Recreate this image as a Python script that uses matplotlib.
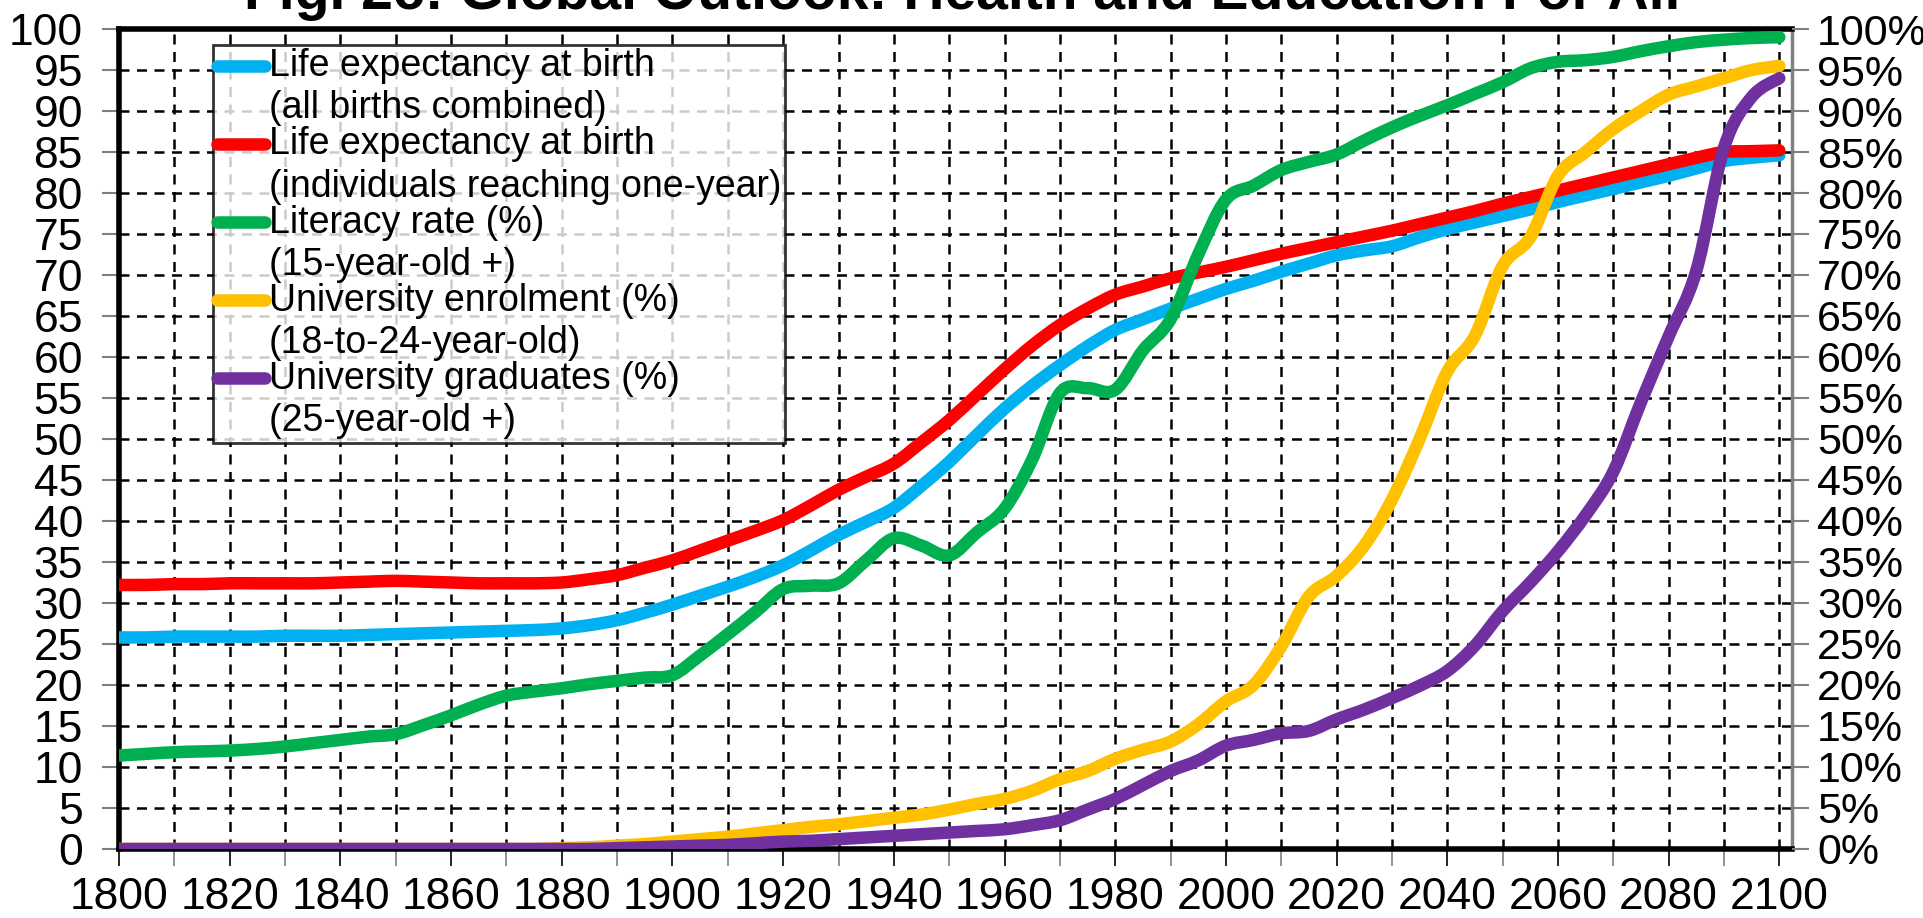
import matplotlib.pyplot as plt
from matplotlib.ticker import MultipleLocator, FuncFormatter
from matplotlib.path import Path
from matplotlib.patches import PathPatch
from matplotlib.lines import Line2D
from matplotlib.legend_handler import HandlerLine2D

plt.rcParams['font.family'] = ['Liberation Sans', 'DejaVu Sans']

years = list(range(1800, 2101, 5))

life_all = [25.8, 25.8, 25.9, 25.9, 25.9, 25.9, 26.0, 26.0, 26.0, 26.1,
            26.2, 26.3, 26.4, 26.5, 26.6, 26.7, 26.9, 27.3, 27.9, 28.8,
            29.8, 30.9, 32.0, 33.2, 34.6, 36.4, 38.3, 39.9, 41.6, 44.3,
            47.2, 50.5, 53.7, 56.5, 59.0, 61.3, 63.3, 64.6, 65.9, 67.1,
            68.3, 69.3, 70.4, 71.4, 72.4, 73.0, 73.5, 74.6, 75.6, 76.4,
            77.2, 78.0, 78.9, 79.7, 80.5, 81.3, 82.1, 83.0, 83.9, 84.3, 84.6]

life_one = [32.2, 32.2, 32.3, 32.3, 32.4, 32.4, 32.4, 32.4, 32.5, 32.6,
            32.7, 32.6, 32.5, 32.4, 32.4, 32.4, 32.5, 32.9, 33.4, 34.3,
            35.2, 36.4, 37.6, 38.8, 40.1, 41.9, 43.8, 45.4, 47.0, 49.6,
            52.3, 55.4, 58.5, 61.4, 63.9, 65.9, 67.6, 68.6, 69.6, 70.3,
            71.0, 71.8, 72.6, 73.3, 74.0, 74.7, 75.4, 76.2, 77.0, 77.8,
            78.7, 79.5, 80.3, 81.1, 81.9, 82.7, 83.5, 84.3, 85.0, 85.1, 85.2]

literacy = [11.4, 11.6, 11.8, 11.9, 12.0, 12.2, 12.5, 12.9, 13.3, 13.7,
            14.0, 15.1, 16.3, 17.6, 18.7, 19.2, 19.6, 20.1, 20.5, 20.9,
            21.2, 23.6, 26.2, 28.9, 31.7, 32.1, 32.4, 35.2, 37.9, 37.0,
            35.8, 38.6, 41.5, 47.5, 55.6, 56.2, 56.0, 60.8, 64.6, 72.5,
            79.2, 80.9, 82.8, 83.8, 84.7, 86.4, 88.0, 89.4, 90.7, 92.1,
            93.5, 95.2, 96.0, 96.2, 96.6, 97.3, 97.9, 98.4, 98.7, 98.9, 99.0]

enrolment = [0, 0, 0, 0, 0, 0, 0, 0, 0, 0,
             0, 0, 0, 0, 0, 0, 0.1, 0.2, 0.4, 0.6,
             0.9, 1.2, 1.5, 1.9, 2.3, 2.7, 3.0, 3.4, 3.8, 4.2,
             4.8, 5.5, 6.1, 7.1, 8.5, 9.5, 11.0, 12.1, 13.1, 15.2,
             18.0, 20.0, 24.7, 30.8, 33.3, 37.0, 42.6, 50.0, 58.2, 62.6,
             71.1, 74.6, 82.1, 85.0, 87.8, 90.0, 92.0, 93.0, 94.0, 95.0, 95.5]

graduates = [0, 0, 0, 0, 0, 0, 0, 0, 0, 0,
             0, 0, 0, 0, 0, 0, 0, 0, 0.1, 0.2,
             0.3, 0.4, 0.5, 0.7, 0.9, 1.0, 1.2, 1.4, 1.6, 1.8,
             2.0, 2.2, 2.4, 2.9, 3.5, 4.8, 6.1, 7.8, 9.5, 10.8,
             12.6, 13.3, 14.1, 14.4, 15.8, 17.0, 18.4, 19.9, 21.7, 24.8,
             29.0, 32.5, 36.3, 40.7, 46.0, 54.5, 62.5, 70.5, 85.5, 91.7, 94.0]

labels = ["Life expectancy at birth\n(all births combined)",
          "Life expectancy at birth\n(individuals reaching one-year)",
          "Literacy rate (%)\n(15-year-old +)",
          "University enrolment (%)\n(18-to-24-year-old)",
          "University graduates (%)\n(25-year-old +)"]
colors = ['#00B0F0', '#FF0000', '#00B050', '#FFC000', '#7030A0']
series = [life_all, life_one, literacy, enrolment, graduates]
LW = 9


def smooth_path(xs, ys):
    # Excel-style smoothed line: Catmull-Rom segments as cubic Beziers
    n = len(xs)
    verts = [(xs[0], ys[0])]
    codes = [Path.MOVETO]
    for i in range(n - 1):
        i0, i2 = max(i - 1, 0), min(i + 2, n - 1)
        c1 = (xs[i] + (xs[i + 1] - xs[i0]) / 6, ys[i] + (ys[i + 1] - ys[i0]) / 6)
        c2 = (xs[i + 1] - (xs[i2] - xs[i]) / 6, ys[i + 1] - (ys[i2] - ys[i]) / 6)
        verts += [c1, c2, (xs[i + 1], ys[i + 1])]
        codes += [Path.CURVE4] * 3
    return Path(verts, codes)


class FirstLineHandler(HandlerLine2D):
    # put the legend swatch next to the first of the two text lines
    def create_artists(self, legend, orig_handle, xdescent, ydescent,
                       width, height, fontsize, trans):
        arts = super().create_artists(legend, orig_handle, xdescent, ydescent,
                                      width, height, fontsize, trans)
        for a in arts:
            a.set_ydata([y + 0.6 * fontsize for y in a.get_ydata()])
        return arts


fig = plt.figure(figsize=(19.24, 9.18), dpi=100)
ax = fig.add_axes([0.0619, 0.0752, 0.8695, 0.8932])

handles = []
for vals, c, lab in zip(series, colors, labels):
    ax.add_patch(PathPatch(smooth_path(years, vals), fill=False, edgecolor=c,
                           lw=LW, capstyle='round', joinstyle='round', zorder=3))
    handles.append(Line2D([], [], color=c, lw=LW, solid_capstyle='round', label=lab))

ax.set_xlim(1800, 2102.3)
ax.set_ylim(0, 100)
ax.xaxis.set_major_locator(MultipleLocator(20))
ax.xaxis.set_minor_locator(MultipleLocator(10))
ax.yaxis.set_major_locator(MultipleLocator(5))
ax.grid(True, which='both', axis='x', color='black', ls=(0, (4, 3)), lw=1.8)
ax.grid(True, which='major', axis='y', color='black', ls=(0, (4, 3)), lw=1.8)
ax.set_axisbelow(True)

ax.tick_params(axis='x', which='major', direction='out', length=12, width=1.2,
               color='black', labelsize=32, pad=8)
ax.tick_params(axis='x', which='minor', direction='out', length=12, width=1.2,
               color='#808080')
ax.tick_params(axis='y', direction='out', length=12, width=1.5,
               color='#808080', labelsize=32, pad=14)

for s in ['left', 'bottom', 'top']:
    ax.spines[s].set_color('black')
    ax.spines[s].set_linewidth(4)
ax.spines['right'].set_color('#808080')
ax.spines['right'].set_linewidth(2.5)

ax2 = ax.twinx()
ax2.set_ylim(0, 100)
ax2.yaxis.set_major_locator(MultipleLocator(5))
ax2.yaxis.set_major_formatter(FuncFormatter(lambda v, p: f"{int(v)}%"))
ax2.tick_params(axis='y', direction='out', length=12, width=1.5,
                color='#808080', labelsize=31, pad=6)
for s in ax2.spines.values():
    s.set_visible(False)

leg = ax.legend(handles=handles, loc='upper left', bbox_to_anchor=(0.056, 0.981),
                fontsize=27, frameon=True, fancybox=False, edgecolor='black',
                handlelength=1.3, handletextpad=0.1, labelspacing=0.0,
                borderpad=0.1, borderaxespad=0,
                handler_map={Line2D: FirstLineHandler()})
leg.get_frame().set_linewidth(2)
leg.set_zorder(5)
for t in leg.get_texts():
    t.set_linespacing(1.22)

fig.text(0.5, 0.99, "Fig. 2c: Global Outlook: Health and Education For All",
         ha='center', va='baseline', fontsize=41, fontweight='bold')

fig.savefig('out.png', dpi=100)
